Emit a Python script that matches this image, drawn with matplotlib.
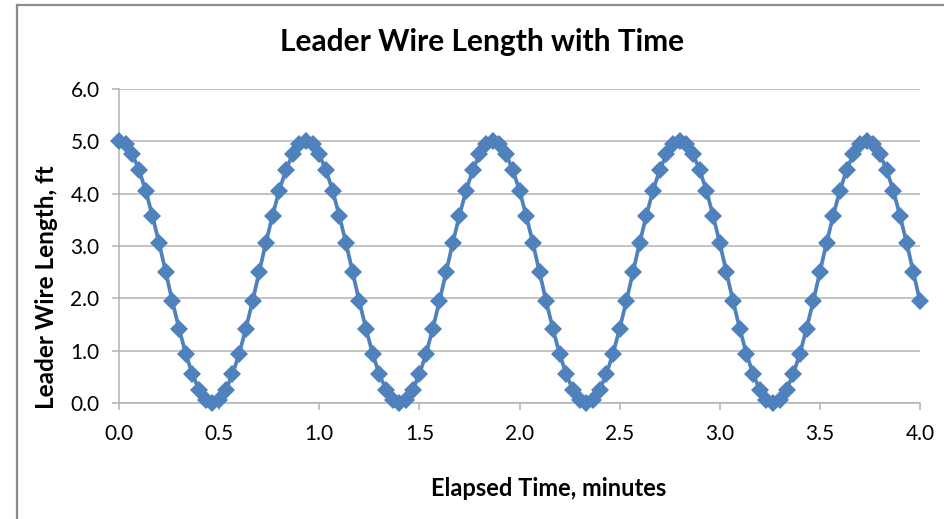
import matplotlib
matplotlib.use("Agg")
import matplotlib.pyplot as plt
from matplotlib.lines import Line2D

# Sample times: one reading every 2 seconds over 4 minutes
elapsed_seconds = list(range(0, 242, 2))
elapsed_minutes = [s / 60 for s in elapsed_seconds]

# Measured leader wire length (ft) at each sample
wire_length_ft = [
    5.00, 4.94, 4.75, 4.45, 4.06, 3.58, 3.06, 2.50, 1.94, 1.42, 0.94, 0.55, 0.25, 0.06,
    0.00, 0.06, 0.25, 0.55, 0.94, 1.42, 1.94, 2.50, 3.06, 3.58, 4.06, 4.45, 4.75, 4.94,
    5.00, 4.94, 4.75, 4.45, 4.06, 3.58, 3.06, 2.50, 1.94, 1.42, 0.94, 0.55, 0.25, 0.06,
    0.00, 0.06, 0.25, 0.55, 0.94, 1.42, 1.94, 2.50, 3.06, 3.58, 4.06, 4.45, 4.75, 4.94,
    5.00, 4.94, 4.75, 4.45, 4.06, 3.58, 3.06, 2.50, 1.94, 1.42, 0.94, 0.55, 0.25, 0.06,
    0.00, 0.06, 0.25, 0.55, 0.94, 1.42, 1.94, 2.50, 3.06, 3.58, 4.06, 4.45, 4.75, 4.94,
    5.00, 4.94, 4.75, 4.45, 4.06, 3.58, 3.06, 2.50, 1.94, 1.42, 0.94, 0.55, 0.25, 0.06,
    0.00, 0.06, 0.25, 0.55, 0.94, 1.42, 1.94, 2.50, 3.06, 3.58, 4.06, 4.45, 4.75, 4.94,
    5.00, 4.94, 4.75, 4.45, 4.06, 3.58, 3.06, 2.50, 1.94,
]

x_ticks = [0.0, 0.5, 1.0, 1.5, 2.0, 2.5, 3.0, 3.5, 4.0]
y_ticks = [0.0, 1.0, 2.0, 3.0, 4.0, 5.0, 6.0]

plt.rcParams["font.family"] = ["Lato", "DejaVu Sans"]

W, H = 944, 519
fig = plt.figure(figsize=(W / 100, H / 100), dpi=100)
fig.patch.set_facecolor("white")

# Chart-area frame (left and top edges visible)
frame_color = "#8c8c8c"
fig.add_artist(Line2D([17 / W, 17 / W], [0, 1 - 5 / H], transform=fig.transFigure,
                      color=frame_color, lw=1.6))
fig.add_artist(Line2D([17 / W, 1], [1 - 5 / H, 1 - 5 / H], transform=fig.transFigure,
                      color=frame_color, lw=1.6))

left, right, top, bottom = 119 / W, 920 / W, 1 - 89 / H, 1 - 403 / H
ax = fig.add_axes([left, bottom, right - left, top - bottom])

blue = "#4F81BD"
ax.plot(elapsed_minutes, wire_length_ft, color=blue, lw=2.7, marker="D",
        markersize=9, markeredgewidth=0, zorder=3, clip_on=False)

ax.set_xlim(0, 4)
ax.set_ylim(0, 6)
ax.set_xticks(x_ticks)
ax.set_yticks(y_ticks)
ax.set_xticklabels([f"{v:.1f}" for v in x_ticks])
ax.set_yticklabels([f"{v:.1f}" for v in y_ticks])

grid_color = "#b3b3b3"
ax.grid(axis="y", color=grid_color, lw=1.1)
ax.set_axisbelow(True)
for side in ("top", "right"):
    ax.spines[side].set_visible(False)
ax.spines["left"].set_color(grid_color)
ax.spines["bottom"].set_color(grid_color)
ax.spines["left"].set_linewidth(1.1)
ax.spines["bottom"].set_linewidth(1.1)
ax.tick_params(axis="both", colors=grid_color, labelcolor="black", labelsize=15,
               length=5, width=1.1)
ax.tick_params(axis="x", pad=10)
ax.tick_params(axis="y", pad=9)

fig.text(482 / W, 1 - 42 / H, "Leader Wire Length with Time", ha="center",
         va="center", fontsize=21.5, fontweight="bold")
fig.text(549 / W, 1 - 489 / H, "Elapsed Time, minutes", ha="center", va="center",
         fontsize=17, fontweight="bold")
fig.text(47 / W, 1 - 287 / H, "Leader Wire Length, ft", ha="center", va="center",
         rotation=90, fontsize=17.5, fontweight="bold")

fig.savefig("out.png", dpi=100)
